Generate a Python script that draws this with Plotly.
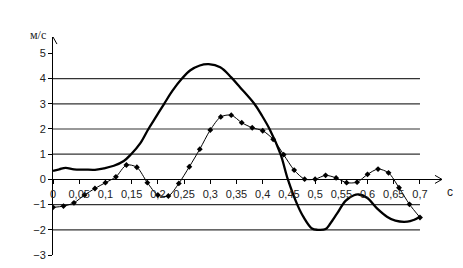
import plotly.graph_objects as go

# Thick curve (irregular sampling)
thick_t = [0, 0.012, 0.024, 0.04, 0.06, 0.08, 0.097, 0.116, 0.135, 0.149, 0.167,
           0.182, 0.197, 0.212, 0.228, 0.246, 0.262, 0.28, 0.297, 0.319, 0.34, 0.357,
           0.384, 0.398, 0.413, 0.434, 0.448, 0.466, 0.478, 0.494, 0.505, 0.52, 0.529,
           0.542, 0.558, 0.574, 0.583, 0.599, 0.618, 0.637, 0.653, 0.676, 0.688, 0.70]
thick_v = [0.34, 0.40, 0.46, 0.40, 0.39, 0.38, 0.44, 0.54, 0.73, 1.0, 1.45,
           2.0, 2.5, 3.0, 3.52, 4.0, 4.33, 4.52, 4.57, 4.45, 4.05, 3.65,
           3.0, 2.55, 2.0, 1.0, 0.0, -1.0, -1.5, -1.95, -2.0, -1.97, -1.75,
           -1.35, -0.85, -0.63, -0.6, -0.73, -1.15, -1.48, -1.64, -1.68, -1.61, -1.48]

# Thin curve with markers, every 0.02 s
thin_t = [0.00, 0.02, 0.04, 0.06, 0.08, 0.10, 0.12, 0.14, 0.16, 0.18, 0.20, 0.22,
          0.24, 0.26, 0.28, 0.30, 0.32, 0.34, 0.36, 0.38, 0.40, 0.42, 0.44, 0.46,
          0.48, 0.50, 0.52, 0.54, 0.56, 0.58, 0.60, 0.62, 0.64, 0.66, 0.68, 0.70]
thin_v = [-1.11, -1.06, -0.93, -0.62, -0.36, -0.13, 0.10, 0.57, 0.48, -0.13, -0.62, -0.66,
          -0.16, 0.50, 1.20, 1.96, 2.48, 2.55, 2.25, 2.05, 1.93, 1.59, 0.98, 0.37,
          0.01, 0.01, 0.16, 0.06, -0.13, -0.11, 0.20, 0.41, 0.26, -0.33, -0.99, -1.51]

x_tickvals = [0, 0.05, 0.1, 0.15, 0.2, 0.25, 0.3, 0.35, 0.4, 0.45, 0.5, 0.55, 0.6, 0.65, 0.7]
x_ticktext = ["0", "0,05", "0,1", "0,15", "0,2", "0,25", "0,3", "0,35", "0,4", "0,45",
              "0,5", "0,55", "0,6", "0,65", "0,7"]
y_tickvals = [-3, -2, -1, 0, 1, 2, 3, 4, 5]
grid_vals = [-2, -1, 1, 2, 3, 4]

X_MAX = 0.742
Y_MIN, Y_MAX = -3, 5.65
GRID_END = 0.7

W, H = 463, 268
PL, PR, PT, PB = 53, 442, 37, 255  # plot box in pixels

fig = go.Figure()
fig.add_trace(go.Scatter(x=thick_t, y=thick_v, mode="lines",
                         line=dict(color="black", width=2.3, shape="spline", smoothing=1.0),
                         showlegend=False, hoverinfo="skip"))
fig.add_trace(go.Scatter(x=thin_t, y=thin_v, mode="lines+markers",
                         line=dict(color="black", width=1, shape="spline", smoothing=0.8),
                         marker=dict(symbol="diamond", size=4.5, color="black"),
                         showlegend=False, hoverinfo="skip"))

shapes = []
for g in grid_vals:
    shapes.append(dict(type="line", xref="x", yref="y", x0=0, x1=GRID_END, y0=g, y1=g,
                       line=dict(color="#333333", width=1.2), layer="below"))

# Axis arrows
ax_w = 0.0134
ax_h = 0.16
shapes.append(dict(type="path", xref="x", yref="y",
                   path=f"M {X_MAX-ax_w},{ax_h} L {X_MAX},0 L {X_MAX-ax_w},{-ax_h}",
                   line=dict(color="black", width=1)))
ay_w = 0.0076
ay_h = 0.28
shapes.append(dict(type="path", xref="x", yref="y",
                   path=f"M {-ay_w},{Y_MAX-ay_h} L 0,{Y_MAX} L {ay_w},{Y_MAX-ay_h}",
                   line=dict(color="black", width=1)))

zero_pos = (0 - Y_MIN) / (Y_MAX - Y_MIN) * (PB - PT) / H + (H - PB) / H

tickfont = dict(family="Liberation Sans, Arial", size=11, color="#222222")

fig.update_layout(
    width=W, height=H, autosize=False,
    margin=dict(l=0, r=0, t=0, b=0, pad=0, autoexpand=False),
    paper_bgcolor="white", plot_bgcolor="white",
    shapes=shapes,
    xaxis=dict(range=[0, X_MAX], domain=[PL / W, PR / W], anchor="free", position=zero_pos,
               automargin=False,
               showline=True, linecolor="black", linewidth=1,
               ticks="outside", ticklen=4, tickcolor="black",
               tickvals=x_tickvals, ticktext=x_ticktext, tickfont=tickfont,
               showgrid=False, zeroline=False, fixedrange=True),
    yaxis=dict(range=[Y_MIN, Y_MAX], domain=[(H - PB) / H, (H - PT) / H], automargin=False,
               showline=True, linecolor="black", linewidth=1,
               ticks="outside", ticklen=4, tickcolor="black",
               tickvals=y_tickvals, tickfont=tickfont,
               showgrid=False, zeroline=False, fixedrange=True),
    annotations=[
        dict(x=0, y=Y_MAX, xref="x", yref="y", text="м/с", showarrow=False,
             xanchor="right", yanchor="middle", xshift=-5, yshift=2,
             font=dict(family="Liberation Serif, Times New Roman", size=12, color="#222222")),
        dict(x=X_MAX, y=0, xref="x", yref="y", text="c", showarrow=False,
             xanchor="left", yanchor="top", xshift=3, yshift=-4,
             font=dict(family="Liberation Sans, Arial", size=12, color="#222222")),
    ],
)

fig.write_html("out.html")
